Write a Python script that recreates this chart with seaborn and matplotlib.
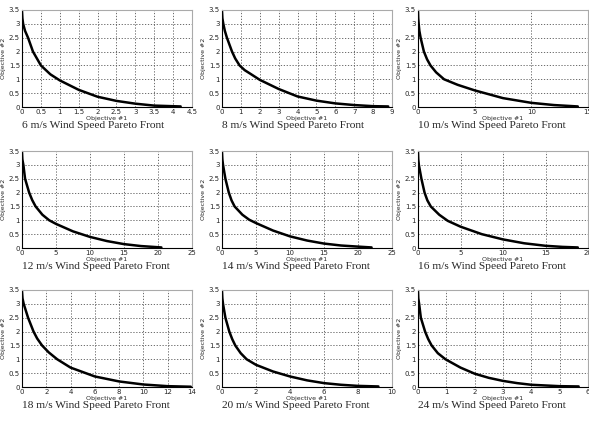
import numpy as np
import seaborn as sns
import matplotlib.pyplot as plt
from matplotlib.ticker import FuncFormatter

# wind speeds and Pareto fronts
speeds = [6, 8, 10, 12, 14, 16, 18, 20, 24]

x6 = [0, 0.01, 0.03, 0.08, 0.16, 0.29, 0.5, 0.75, 1.0, 1.5, 2.0, 2.5, 3.0, 3.5, 4.2]
y6 = [3.45, 3.2, 3.0, 2.75, 2.5, 2.0, 1.5, 1.18, 0.96, 0.62, 0.37, 0.22, 0.12, 0.05, 0.02]

x8 = [0, 0.02, 0.07, 0.15, 0.26, 0.53, 0.7, 0.93, 1.2, 1.5, 2, 3, 4, 5, 6, 7, 8, 8.8]
y8 = [3.45, 3.2, 3.0, 2.75, 2.5, 2.0, 1.75, 1.5, 1.33, 1.2, 0.98, 0.65, 0.38, 0.23, 0.13, 0.07, 0.03, 0.02]

x10 = [0, 0.02, 0.06, 0.12, 0.23, 0.52, 0.8, 1.1, 1.6, 2.3, 3.5, 5, 7.5, 10, 12, 14.1]
y10 = [3.45, 3.2, 3.0, 2.75, 2.5, 2.0, 1.72, 1.5, 1.25, 1.0, 0.8, 0.6, 0.32, 0.15, 0.07, 0.02]

x12 = [0, 0.05, 0.2, 0.45, 1.05, 1.5, 2.0, 3.0, 4.0, 5, 7.5, 10, 12.5, 15, 17.5, 20.5]
y12 = [3.45, 3.2, 3.0, 2.5, 2.0, 1.73, 1.5, 1.2, 1.0, 0.87, 0.6, 0.4, 0.25, 0.14, 0.07, 0.02]

x14 = [0, 0.05, 0.15, 0.5, 1.0, 1.4, 1.85, 3.0, 4.0, 5, 7.5, 10, 12.5, 15, 17.5, 20, 22]
y14 = [3.45, 3.2, 3.0, 2.5, 2.0, 1.72, 1.5, 1.2, 1.02, 0.9, 0.63, 0.42, 0.27, 0.16, 0.09, 0.05, 0.02]

x16 = [0, 0.03, 0.1, 0.4, 0.77, 1.1, 1.5, 2.5, 3.5, 5, 7.5, 10, 12.5, 15, 17, 18.8]
y16 = [3.45, 3.2, 3.0, 2.5, 2.0, 1.72, 1.5, 1.2, 0.98, 0.77, 0.5, 0.31, 0.17, 0.08, 0.04, 0.02]

x18 = [0, 0.04, 0.14, 0.5, 0.95, 1.25, 1.65, 2.2, 2.9, 4, 6, 8, 10, 12, 13.9]
y18 = [3.45, 3.2, 3.0, 2.5, 2.0, 1.75, 1.5, 1.25, 1.0, 0.7, 0.38, 0.2, 0.09, 0.03, 0.01]

x20 = [0, 0.02, 0.06, 0.2, 0.43, 0.6, 0.78, 1.1, 1.45, 2, 3, 4, 5, 6, 7, 8, 9.2]
y20 = [3.45, 3.2, 3.0, 2.5, 2.0, 1.73, 1.5, 1.22, 1.0, 0.8, 0.56, 0.38, 0.24, 0.14, 0.08, 0.04, 0.02]

x24 = [0, 0.01, 0.04, 0.1, 0.25, 0.36, 0.48, 0.7, 0.97, 1.5, 2, 2.5, 3, 3.5, 4, 5, 5.67]
y24 = [3.45, 3.2, 3.0, 2.5, 2.0, 1.73, 1.5, 1.22, 1.0, 0.7, 0.48, 0.33, 0.22, 0.14, 0.08, 0.03, 0.02]

fronts = [(x6, y6), (x8, y8), (x10, y10), (x12, y12), (x14, y14),
          (x16, y16), (x18, y18), (x20, y20), (x24, y24)]
x_max = [4.5, 9, 15, 25, 25, 20, 14, 10, 6]
x_step = [0.5, 1, 5, 5, 5, 5, 2, 2, 1]

W, H = 589, 423
col_left = [22, 222, 418]
row_top = [10, 151, 290]
ax_w, ax_h = 170, 97

sns.set_style("white")
plt.rcParams['font.family'] = ['DejaVu Sans']

fig = plt.figure(figsize=(W / 100, H / 100), dpi=100)
fmt = FuncFormatter(lambda v, p: f"{v:g}")

for i, (xs, ys) in enumerate(fronts):
    r, c = divmod(i, 3)
    ax = fig.add_axes([col_left[c] / W, 1 - (row_top[r] + ax_h) / H, ax_w / W, ax_h / H])
    sns.lineplot(x=xs, y=ys, ax=ax, color="black", linewidth=1.8,
                 estimator=None, sort=False)
    ax.set_xlim(0, x_max[i])
    ax.set_ylim(0, 3.5)
    ax.set_xticks(np.arange(0, x_max[i] + 1e-9, x_step[i]))
    ax.set_yticks(np.arange(0, 3.51, 0.5))
    ax.xaxis.set_major_formatter(fmt)
    ax.yaxis.set_major_formatter(fmt)
    ax.grid(True, linestyle=(0, (1.5, 2)), color="#555555", linewidth=0.6)
    ax.tick_params(direction="in", length=2, width=0.5, labelsize=5, pad=1.5)
    for s in ["left", "bottom"]:
        ax.spines[s].set_color("black")
        ax.spines[s].set_linewidth(0.8)
    for s in ["top", "right"]:
        ax.spines[s].set_color("#aaaaaa")
        ax.spines[s].set_linewidth(0.8)
    ax.set_xlabel("Objective #1", fontsize=4.5, labelpad=1)
    ax.set_ylabel("Objective #2", fontsize=4.5, labelpad=2)
    fig.text(col_left[c] / W, 1 - (row_top[r] + ax_h + 21) / H,
             f"{speeds[i]} m/s Wind Speed Pareto Front",
             fontsize=8.2, family="Liberation Serif", va="baseline", ha="left")

fig.savefig("out.png", dpi=100)
